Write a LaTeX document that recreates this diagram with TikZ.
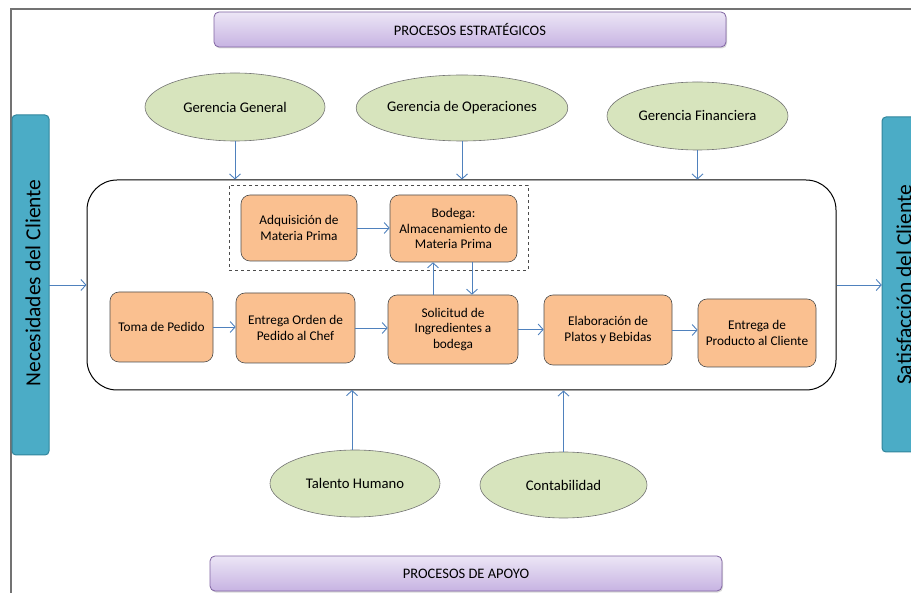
\documentclass[tikz,border=0pt]{standalone}
\usepackage{fontspec}
\setmainfont{Carlito}
\usetikzlibrary{arrows.meta,shapes.geometric,shadows}
\definecolor{arrowblue}{HTML}{4F81BD}
\definecolor{boxfill}{HTML}{FAC090}
\definecolor{ellfill}{HTML}{D7E4BD}
\definecolor{barfill}{HTML}{4BACC6}
\definecolor{barline}{HTML}{31859C}
\definecolor{bantop}{HTML}{ECE6F6}
\definecolor{banbot}{HTML}{C7B3E2}
\definecolor{banline}{HTML}{8064A2}
\tikzset{
  procbox/.style={draw=black!70, fill=boxfill, rounded corners=9pt, line width=0.6pt,
    align=center, font=\fontsize{13.3}{15.5}\selectfont, inner sep=0pt},
  ellnode/.style={ellipse, draw=black!55, fill=ellfill, line width=0.6pt,
    font=\fontsize{14.7}{17}\selectfont, inner sep=0pt},
  sidebar/.style={draw=barline, fill=barfill, rounded corners=4pt, line width=1pt},
  banner/.style={draw=banline, top color=bantop, bottom color=banbot, rounded corners=5pt,
    line width=0.8pt, drop shadow={opacity=0.3, shadow xshift=1pt, shadow yshift=-1.5pt},
    font=\fontsize{14.5}{16}\selectfont, inner sep=0pt},
  flow/.style={draw=arrowblue, line width=0.9pt, -{Straight Barb[length=5pt,width=11pt]}},
  sidetext/.style={rotate=90, font=\fontsize{21.5}{24}\selectfont}
}
\begin{document}
\begin{tikzpicture}[x=1pt,y=-1pt]
\useasboundingbox (0,0) rectangle (911,593);
% frame lines
\draw[black!55, line width=1.2pt] (911,9) -- (11,9) -- (11,593);
% banners
\node[banner, minimum width=512pt, minimum height=35pt] (top) at (470,29.5) {PROCESOS ESTRATÉGICOS};
\node[banner, minimum width=512pt, minimum height=35pt] (bottom) at (466,573.5) {PROCESOS DE APOYO};
% side bars
\path[sidebar] (12,115) rectangle (49,455);
\node[minimum width=37pt, minimum height=340pt, inner sep=0pt] (left) at (30.5,285) {};
\node[sidetext] at (33,283) {Necesidades del Cliente};
\path[sidebar] (882,117) rectangle (925,452);
\node[minimum width=43pt, minimum height=335pt, inner sep=0pt] (right) at (903.5,284.5) {};
\node[sidetext] at (904,285) {Satisfacción del Cliente};
% main rounded container
\node[draw=black, line width=1pt, rounded corners=30pt, minimum width=749pt, minimum height=210pt, inner sep=0pt] (main) at (461.5,285) {};
% dashed group
\node[draw=black!70, dashed, line width=0.6pt, minimum width=299pt, minimum height=85pt, inner sep=0pt] (grp) at (378.5,227.5) {};
% ellipses
\node[ellnode, minimum width=180pt, minimum height=68pt] (gg) at (235,107) {Gerencia General};
\node[ellnode, minimum width=176pt, minimum height=66pt] (go) at (462,108) {Gerencia de Operaciones};
\node[ellnode, minimum width=181pt, minimum height=68pt] (gf) at (697.5,116) {Gerencia Financiera};
\node[ellnode, minimum width=170pt, minimum height=67pt] (th) at (355,483.5) {Talento Humano};
\node[ellnode, minimum width=167pt, minimum height=66pt] (ct) at (563.5,485) {Contabilidad};
% process boxes
\node[procbox, minimum width=116pt, minimum height=66pt] (adq) at (299,228) {Adquisición de\\Materia Prima};
\node[procbox, minimum width=127pt, minimum height=67pt] (bod) at (453.5,228.5) {Bodega:\\Almacenamiento de\\Materia Prima};
\node[procbox, minimum width=103pt, minimum height=70pt] (toma) at (161.5,327) {Toma de Pedido};
\node[procbox, minimum width=119pt, minimum height=70pt] (ent) at (295.5,328) {Entrega Orden de\\Pedido al Chef};
\node[procbox, minimum width=130pt, minimum height=69pt] (sol) at (453,329.5) {Solicitud de\\Ingredientes a\\bodega};
\node[procbox, minimum width=128pt, minimum height=70pt] (ela) at (608,330) {Elaboración de\\Platos y Bebidas};
\node[procbox, minimum width=118pt, minimum height=68pt] (prod) at (757,333) {Entrega de\\Producto al Cliente};
% arrows
\draw[flow] (left.east |- 0,285) -- (main.west |- 0,285);
\draw[flow] (main.east |- 0,285) -- (right.west |- 0,285);
\draw[flow] (gg.south) -- (gg.south |- main.north);
\draw[flow] (go.south) -- (go.south |- main.north);
\draw[flow] (gf.south) -- (gf.south |- main.north);
\draw[flow] (th.north -| 352,0) -- (352,390);
\draw[flow] (ct.north) -- (ct.north |- main.south);
\draw[flow] (adq.east) -- (bod.west |- adq.east);
\draw[flow] (bod.south -| 472,0) -- (sol.north -| 472,0);
\draw[flow] (sol.north -| 433,0) -- (bod.south -| 433,0);
\draw[flow] (toma.east) -- (ent.west |- toma.east);
\draw[flow] (ent.east) -- (sol.west |- ent.east);
\draw[flow] (sol.east) -- (ela.west |- sol.east);
\draw[flow] (ela.east) -- (prod.west |- ela.east);
\end{tikzpicture}
\end{document}
